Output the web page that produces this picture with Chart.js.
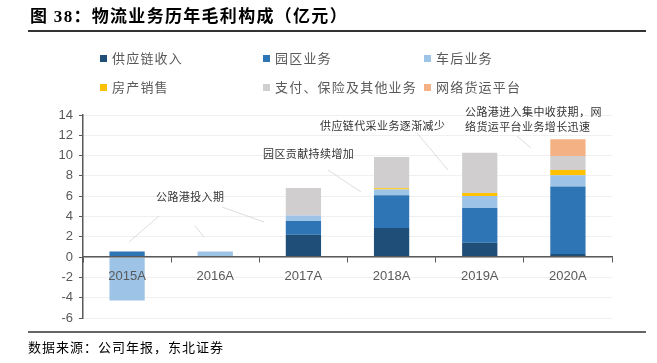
<!DOCTYPE html>
<html>
<head>
<meta charset="utf-8">
<script src="https://cdn.jsdelivr.net/npm/chart.js@4/dist/chart.umd.min.js"></script>
<style>
  html, body { margin: 0; padding: 0; background: #fff; }
  #wrap { position: relative; width: 657px; height: 363px; overflow: hidden; font-family: "Noto Sans CJK SC", sans-serif; }
  #graficaWuliu { position: absolute; left: 0; top: 0; }
  .txt { position: absolute; white-space: nowrap; line-height: 1; }
  .titulo { left: 30px; top: 8px; font-size: 17px; font-weight: bold; color: #000; letter-spacing: 1.3px; font-family: "Liberation Serif", "Noto Sans CJK SC", serif; }
  .linea { position: absolute; left: 28px; width: 618px; }
  .fuente { left: 28px; top: 340px; font-size: 13px; color: #000; letter-spacing: 1px; }
  .nota { font-size: 11px; color: #333; letter-spacing: 0.4px; }
  .leyenda { font-size: 13px; color: #595959; letter-spacing: 1.2px; }
  .cuadro { position: absolute; width: 7px; height: 7px; }
</style>
</head>
<body>
<div id="wrap">
  <canvas id="graficaWuliu" width="657" height="363"></canvas>
  <div class="txt titulo">图&nbsp;38：物流业务历年毛利构成（亿元）</div>
  <div class="linea" style="top:30px;height:1.5px;background:#333"></div>
  <div id="leyenda"></div>
  <div class="txt nota" style="left:156px;top:191px">公路港投入期</div>
  <div class="txt nota" style="left:263px;top:148px">园区贡献持续增加</div>
  <div class="txt nota" style="left:320px;top:120px">供应链代采业务逐渐减少</div>
  <div class="txt nota" style="left:465px;top:106px">公路港进入集中收获期，网</div>
  <div class="txt nota" style="left:465px;top:121px">络货运平台业务增长迅速</div>
  <div class="linea" style="top:331px;height:2px;background:#666"></div>
  <div class="txt fuente">数据来源：公司年报，东北证券</div>
</div>
<script>
const years = ["2015A", "2016A", "2017A", "2018A", "2019A", "2020A"];
const seriesNames = ["供应链收入", "园区业务", "车后业务", "房产销售", "支付、保险及其他业务", "网络货运平台"];
const seriesColors = ["#1f4e79", "#2e75b6", "#9dc3e6", "#ffc000", "#d0cece", "#f4b183"];

const gongyinglian = [0, 0, 2.2, 2.87, 1.42, 0.3];
const yuanqu = [0.56, 0, 1.35, 3.22, 3.42, 6.65];
const chehou = [-4.28, 0.55, 0.56, 0.56, 1.19, 1.12];
const fangchan = [0, 0, 0, 0.13, 0.29, 0.5];
const zhifu = [0, 0, 2.7, 3.09, 3.96, 1.38];
const wangluo = [0, 0, 0, 0, 0, 1.65];
const yTicks = [-6, -4, -2, 0, 2, 4, 6, 8, 10, 12, 14];

const valores = [gongyinglian, yuanqu, chehou, fangchan, zhifu, wangluo];

// legend positions (two rows of three)
const leyendaX = [100, 263, 424];
const leyendaY = [58, 87];
const caja = document.getElementById("leyenda");
seriesNames.forEach((nombre, i) => {
    const x = leyendaX[i % 3], y = leyendaY[Math.floor(i / 3)];
    const c = document.createElement("div");
    c.className = "cuadro";
    c.style.left = x + "px";
    c.style.top = (y - 3.5) + "px";
    c.style.background = seriesColors[i];
    caja.appendChild(c);
    const t = document.createElement("div");
    t.className = "txt leyenda";
    t.style.left = (x + 12) + "px";
    t.style.top = (y - 7) + "px";
    t.textContent = nombre;
    caja.appendChild(t);
});

// leader lines for the notes
const lineas = [
    [159, 216, 129, 242],
    [195, 226, 204, 237],
    [222, 207, 264, 222],
    [328, 170, 361, 192],
    [417, 133, 448, 170],
    [517, 136, 531, 148]
];
const lineasPlugin = {
    id: "lineas",
    afterDraw(chart) {
        const ctx = chart.ctx;
        ctx.save();
        ctx.strokeStyle = "#cfcfcf";
        ctx.lineWidth = 0.7;
        lineas.forEach(l => {
            ctx.beginPath();
            ctx.moveTo(l[0], l[1]);
            ctx.lineTo(l[2], l[3]);
            ctx.stroke();
        });
        ctx.restore();
    }
};

new Chart("graficaWuliu", {
    type: "bar",
    data: {
        labels: years,
        datasets: seriesNames.map((n, i) => ({
            label: n,
            data: valores[i],
            backgroundColor: seriesColors[i],
            barPercentage: 0.4,
            categoryPercentage: 1.0,
            stack: "s"
        }))
    },
    options: {
        responsive: false,
        animation: false,
        layout: { padding: { left: 0, top: 115, right: 45, bottom: 45 } },
        plugins: { legend: { display: false }, tooltip: { enabled: false } },
        scales: {
            x: {
                stacked: true,
                position: { y: 0 },
                grid: { drawOnChartArea: false, tickLength: 5, tickColor: "#595959", offset: true, z: 1 },
                border: { color: "#595959", width: 1.5, z: 1 },
                ticks: { color: "#595959", font: { family: "Liberation Sans", size: 13 }, padding: 7, z: 1 }
            },
            y: {
                stacked: true,
                min: -6,
                max: 14,
                afterFit: s => { s.width = 83; },
                afterBuildTicks: s => { s.ticks = yTicks.map(v => ({ value: v })); },
                grid: { color: "#f0f0f0", tickLength: 4, tickColor: "#595959" },
                border: { color: "#595959", width: 1.5 },
                ticks: { color: "#595959", font: { family: "Liberation Sans", size: 13 }, padding: 6 }
            }
        }
    },
    plugins: [lineasPlugin]
});
</script>
</body>
</html>
